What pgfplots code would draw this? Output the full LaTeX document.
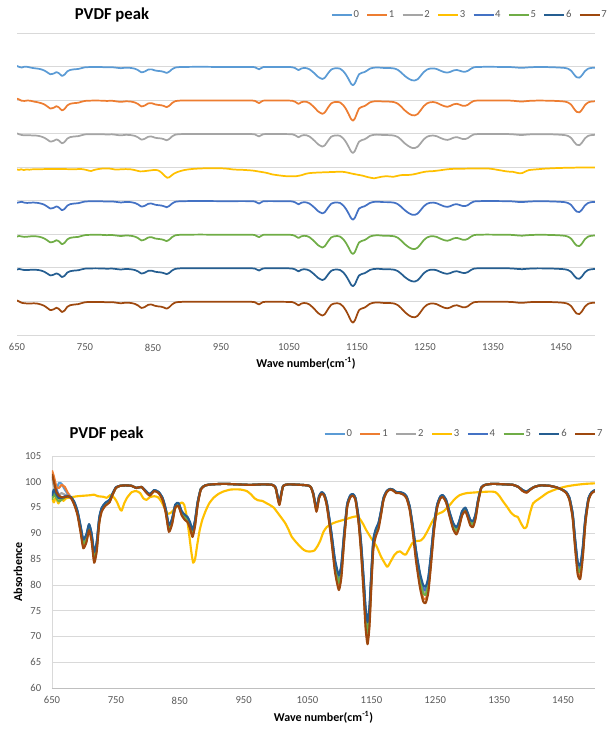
\documentclass[border=0pt]{standalone}
\usepackage{fontspec}
\setmainfont{Carlito}
\usepackage{pgfplots}
\usepackage{pgfplotstable}
\pgfplotsset{compat=1.18}
\definecolor{c0}{HTML}{5B9BD5}
\definecolor{c1}{HTML}{ED7D31}
\definecolor{c2}{HTML}{A5A5A5}
\definecolor{c3}{HTML}{FFC000}
\definecolor{c4}{HTML}{4472C4}
\definecolor{c5}{HTML}{70AD47}
\definecolor{c6}{HTML}{255E91}
\definecolor{c7}{HTML}{9E480E}
\definecolor{gridc}{HTML}{D9D9D9}
\definecolor{axc}{HTML}{BFBFBF}
\definecolor{txt}{HTML}{595959}

\pgfplotstableread{
x s0 s1 s2 s4 s5 s6 s7
650 101.0 102.2 100.5 97.0 96.5 97.3 101.5
653 99.5 101.0 99.2 97.8 97.6 98.5 100.0
657 98.6 99.0 98.0 98.5 96.8 97.5 98.0
661 99.8 98.8 97.5 97.2 96.2 96.8 97.3
665 99.6 99.4 97.8 96.8 96.5 96.9 97.0
670 98.5 99.0 97.5 97.2 97.0 97.1 97.0
675 97.6 97.8 97.3 97.3 97.1 97.2 97.2
680 97.0 96.9 97.0 96.9 96.9 97.0 96.8
685 96.0 95.6 95.9 95.9 95.8 96.1 95.5
690 94.2 93.7 94.0 94.2 93.9 94.3 93.5
695 91.1 90.3 90.9 91.0 90.7 91.3 90.0
699 88.6 87.5 88.2 88.5 88.0 88.8 87.1
704 89.6 88.6 89.3 89.5 89.1 89.9 88.3
708 91.7 90.9 91.4 91.6 91.2 91.8 90.6
712 89.8 88.8 89.5 89.7 89.3 90.0 88.5
716 86.1 84.8 85.7 86.0 85.4 86.4 84.3
720 88.1 86.9 87.7 87.9 87.4 88.3 86.5
724 92.9 92.2 92.7 92.8 92.5 93.1 92.0
728 94.9 94.5 94.8 94.9 94.7 95.0 94.3
734 95.9 95.5 95.8 95.9 95.7 96.0 95.4
740 96.4 96.1 96.3 96.4 96.2 96.5 96.0
745 97.7 97.6 97.7 97.7 97.6 97.8 97.5
750 98.9 98.8 98.9 98.9 98.8 98.9 98.8
756 99.2 99.2 99.2 99.2 99.2 99.2 99.2
765 99.3 99.3 99.3 99.3 99.3 99.3 99.3
775 99.2 99.2 99.2 99.2 99.2 99.2 99.2
782 98.8 98.8 98.8 98.8 98.8 98.8 98.8
790 99.0 99.0 99.0 99.0 99.0 99.0 99.0
797 98.2 98.0 98.1 98.2 98.1 98.2 98.0
803 97.6 97.4 97.5 97.5 97.5 97.6 97.3
810 98.4 98.2 98.3 98.3 98.3 98.4 98.2
817 98.0 97.9 97.9 98.0 97.9 98.0 97.8
823 96.9 96.6 96.8 96.8 96.7 96.9 96.5
828 94.7 94.2 94.5 94.6 94.4 94.8 94.0
833 91.4 90.6 91.1 91.3 90.9 91.6 90.3
838 92.7 92.0 92.5 92.6 92.3 92.9 91.8
843 95.5 95.1 95.4 95.5 95.3 95.6 95.0
848 95.8 95.4 95.7 95.8 95.6 95.9 95.3
853 94.2 93.7 94.0 94.2 93.9 94.3 93.5
858 93.4 92.8 93.2 93.4 93.1 93.6 92.6
862 93.1 92.4 92.9 93.0 92.7 93.2 92.2
866 92.0 91.3 91.8 91.9 91.6 92.2 91.0
870 90.5 89.6 90.2 90.4 90.0 90.7 89.3
874 92.5 91.7 92.2 92.4 92.1 92.6 91.5
878 96.0 95.6 95.9 95.9 95.8 96.1 95.5
883 98.6 98.5 98.6 98.6 98.6 98.6 98.5
890 99.3 99.3 99.3 99.3 99.3 99.3 99.3
900 99.5 99.5 99.5 99.5 99.5 99.5 99.5
920 99.6 99.6 99.6 99.6 99.6 99.6 99.6
940 99.5 99.5 99.5 99.5 99.5 99.5 99.5
960 99.4 99.4 99.4 99.4 99.4 99.4 99.4
980 99.5 99.5 99.5 99.5 99.5 99.5 99.5
995 99.4 99.4 99.4 99.4 99.4 99.4 99.4
1000 98.9 98.8 98.9 98.9 98.8 98.9 98.8
1003 97.3 97.1 97.2 97.3 97.2 97.4 97.0
1006 96.0 95.6 95.9 95.9 95.8 96.1 95.5
1009 97.7 97.6 97.7 97.7 97.6 97.8 97.5
1012 99.2 99.2 99.2 99.2 99.2 99.2 99.2
1020 99.5 99.5 99.5 99.5 99.5 99.5 99.5
1040 99.4 99.4 99.4 99.4 99.4 99.4 99.4
1050 99.3 99.3 99.3 99.3 99.3 99.3 99.3
1055 99.0 99.0 99.0 99.0 99.0 99.0 99.0
1059 97.7 97.6 97.7 97.7 97.6 97.8 97.5
1064 94.8 94.4 94.7 94.8 94.6 94.9 94.2
1068 97.1 96.9 97.0 97.1 97.0 97.2 96.8
1072 97.9 97.8 97.9 97.9 97.8 98.0 97.7
1076 97.6 97.4 97.5 97.5 97.5 97.6 97.3
1080 96.0 95.6 95.9 95.9 95.8 96.1 95.5
1084 92.9 92.2 92.7 92.8 92.5 93.1 92.0
1088 89.4 88.3 89.0 89.3 88.8 89.6 88.0
1093 84.5 83.0 84.0 84.4 83.7 84.9 82.5
1099 81.5 79.6 80.8 81.3 80.4 81.9 79.0
1103 83.7 82.0 83.1 83.5 82.8 84.0 81.5
1107 89.4 88.3 89.0 89.3 88.8 89.6 88.0
1112 95.5 95.1 95.4 95.5 95.3 95.6 95.0
1117 97.3 97.1 97.2 97.3 97.2 97.4 97.0
1121 97.6 97.4 97.5 97.5 97.5 97.6 97.3
1125 96.9 96.6 96.8 96.8 96.7 96.9 96.5
1130 92.9 92.2 92.7 92.8 92.5 93.1 92.0
1134 87.6 86.4 87.2 87.5 86.9 87.9 86.0
1138 80.6 78.6 79.9 80.4 79.5 81.0 78.0
1141 74.9 72.3 74.0 74.6 73.5 75.4 71.5
1144 72.2 69.4 71.3 71.9 70.7 72.8 68.5
1147 75.3 72.8 74.5 75.0 73.9 75.8 72.0
1150 82.3 80.6 81.8 82.1 81.4 82.7 80.0
1153 88.5 87.4 88.1 88.4 87.9 88.8 87.0
1157 90.7 89.8 90.4 90.6 90.2 90.9 89.5
1161 91.8 91.1 91.6 91.8 91.4 92.0 90.8
1165 94.2 93.7 94.0 94.2 93.9 94.3 93.5
1169 96.9 96.6 96.8 96.8 96.7 96.9 96.5
1174 98.2 98.0 98.1 98.2 98.1 98.2 98.0
1179 98.6 98.5 98.6 98.6 98.6 98.6 98.5
1184 98.4 98.3 98.4 98.4 98.4 98.5 98.3
1189 98.0 97.9 97.9 98.0 97.9 98.0 97.8
1194 98.0 97.9 97.9 98.0 97.9 98.0 97.8
1200 97.7 97.6 97.7 97.7 97.6 97.8 97.5
1205 97.1 96.9 97.0 97.1 97.0 97.2 96.8
1210 95.1 94.7 95.0 95.0 94.9 95.2 94.5
1215 91.1 90.3 90.9 91.0 90.7 91.3 90.0
1220 86.3 85.0 85.8 86.2 85.6 86.6 84.5
1226 81.9 80.1 81.3 81.7 80.9 82.3 79.5
1231 79.5 77.5 78.8 79.3 78.4 80.0 76.8
1235 79.3 77.2 78.6 79.0 78.1 79.7 76.5
1239 81.0 79.1 80.4 80.8 80.0 81.4 78.5
1243 85.4 84.0 84.9 85.3 84.6 85.7 83.5
1248 91.6 90.8 91.3 91.5 91.1 91.8 90.5
1253 95.5 95.1 95.4 95.5 95.3 95.6 95.0
1258 97.1 96.9 97.0 97.1 97.0 97.2 96.8
1262 97.3 97.1 97.2 97.3 97.2 97.4 97.0
1267 96.4 96.1 96.3 96.4 96.2 96.5 96.0
1272 94.2 93.7 94.0 94.2 93.9 94.3 93.5
1278 91.8 91.1 91.6 91.8 91.4 92.0 90.8
1283 91.0 90.1 90.7 90.9 90.5 91.2 89.8
1287 92.0 91.3 91.8 91.9 91.6 92.2 91.0
1292 94.2 93.7 94.0 94.2 93.9 94.3 93.5
1297 94.9 94.5 94.8 94.9 94.7 95.0 94.3
1301 93.8 93.2 93.6 93.7 93.5 93.9 93.0
1305 92.5 91.7 92.2 92.4 92.1 92.6 91.5
1309 92.2 91.5 91.9 92.1 91.8 92.4 91.2
1313 93.6 93.0 93.4 93.5 93.3 93.7 92.8
1317 96.4 96.1 96.3 96.4 96.2 96.5 96.0
1322 98.9 98.8 98.9 98.9 98.8 98.9 98.8
1328 99.4 99.4 99.4 99.4 99.4 99.4 99.4
1340 99.6 99.6 99.6 99.6 99.6 99.6 99.6
1360 99.5 99.5 99.5 99.5 99.5 99.5 99.5
1372 99.4 99.4 99.4 99.4 99.4 99.4 99.4
1380 99.0 99.0 99.0 99.0 99.0 99.0 99.0
1387 98.4 98.2 98.3 98.3 98.3 98.4 98.2
1393 98.1 97.9 98.0 98.1 98.0 98.1 97.9
1398 98.5 98.4 98.5 98.5 98.5 98.5 98.4
1405 99.0 99.0 99.0 99.0 99.0 99.0 99.0
1415 99.3 99.3 99.3 99.3 99.3 99.3 99.3
1430 99.2 99.2 99.2 99.2 99.2 99.2 99.2
1440 98.9 98.9 98.9 98.9 98.9 98.9 98.9
1448 98.5 98.5 98.5 98.5 98.5 98.5 98.5
1455 98.0 97.9 97.9 98.0 97.9 98.0 97.8
1460 96.9 96.6 96.8 96.8 96.7 96.9 96.5
1465 93.8 93.2 93.6 93.7 93.5 93.9 93.0
1469 88.5 87.4 88.1 88.4 87.9 88.8 87.0
1473 84.1 82.5 83.6 83.9 83.2 84.4 82.0
1477 83.4 81.7 82.8 83.2 82.5 83.8 81.2
1481 87.2 85.9 86.8 87.0 86.5 87.5 85.5
1485 92.9 92.2 92.7 92.8 92.5 93.1 92.0
1490 96.9 96.6 96.8 96.8 96.7 96.9 96.5
1495 98.0 97.9 97.9 98.0 97.9 98.0 97.8
1500 98.4 98.2 98.3 98.3 98.3 98.4 98.2
}\maindata

\pgfplotstableread{
x y
650 96.8
653 96.0
656 97.0
660 95.8
664 96.8
668 96.3
672 96.8
680 97.0
690 97.2
700 97.3
710 97.4
716 97.5
722 97.2
730 97.1
736 96.9
742 97.5
748 96.8
752 96.0
756 94.8
759 94.4
763 95.8
768 97.0
775 98.0
782 98.2
788 97.8
793 96.8
798 96.5
803 97.0
810 97.2
816 97.0
821 96.2
826 95.0
831 93.8
836 94.0
841 94.6
847 95.4
853 96.0
857 95.5
861 93.2
865 89.5
868 86.5
871 84.3
874 85.0
877 87.5
881 90.5
885 92.5
890 94.2
896 95.8
903 96.9
910 97.6
918 98.1
930 98.5
945 98.5
955 98.2
962 97.5
967 96.8
973 96.4
979 96.3
985 95.9
991 95.5
997 95.0
1002 94.2
1008 93.2
1015 92.0
1020 90.8
1025 89.4
1032 88.3
1038 87.5
1044 86.8
1050 86.5
1056 86.5
1061 86.7
1066 87.6
1070 88.6
1075 90.3
1080 91.2
1087 91.8
1095 92.2
1106 92.6
1119 93.1
1127 93.3
1132 92.8
1137 91.8
1142 90.6
1150 89.0
1158 87.5
1165 85.5
1170 84.4
1175 83.5
1180 84.5
1186 85.8
1191 86.4
1195 86.5
1200 86.0
1204 85.9
1209 87.0
1214 88.1
1220 88.5
1227 88.6
1232 89.2
1238 90.5
1244 92.0
1252 93.6
1262 94.2
1272 95.4
1280 96.6
1288 97.4
1299 97.8
1320 98.0
1336 98.1
1344 98.0
1350 97.3
1356 96.2
1362 95.2
1368 94.1
1374 93.4
1379 93.2
1384 92.0
1389 91.0
1393 91.3
1398 93.8
1403 95.8
1410 96.5
1418 97.2
1426 97.9
1440 98.6
1455 99.1
1470 99.4
1485 99.6
1500 99.7
}\yellowdata

\pgfplotsset{
  common/.style={
    scale only axis,
    anchor=south west,
    xmin=650, xmax=1500,
    xtick={650,750,...,1450},
    axis x line*=bottom, axis y line*=left,
    major tick length=0pt,
    ymajorgrids,
    grid style={gridc, line width=0.6pt},
    tick label style={font=\fontsize{8}{9}\selectfont, text=txt},
    /pgf/number format/assume math mode=true,
    /pgf/number format/1000 sep={},
    xlabel={Wave number(cm\textsuperscript{-1})},
    legend columns=8,
    legend image code/.code={\draw[#1] (0pt,0pt) -- (15pt,0pt);},
    legend cell align=left,
    every axis plot/.append style={line join=round, smooth, tension=0.35},
  },
}

\begin{document}
\begin{tikzpicture}
\path[use as bounding box] (0,0) rectangle (461.25pt,-546.75pt);

% ---------------- top chart (offset traces) ----------------
\node[font=\bfseries\fontsize{12.5}{14}\selectfont, text=black] at (84pt,-11.25pt) {PVDF peak};
\begin{axis}[common,
  at={(12.75pt,-251.25pt)},
  width=433.5pt, height=226.5pt,
  ymin=0, ymax=450, ytick={0,50,...,450}, yticklabels={},
  x axis line style={-, draw=gridc, line width=0.6pt},
  y axis line style={draw=none},
  xticklabel style={yshift=-3pt},
  xlabel style={at={(axis description cs:0.5,-0.094)}, anchor=center, font=\bfseries\fontsize{9}{10}\selectfont},
  legend style={draw=none, fill=none, at={(0.7826,1.0596)}, anchor=center,
    font=\fontsize{8}{9}\selectfont, text=txt,
    nodes={inner sep=0.6pt},
    /tikz/every even column/.append style={column sep=5pt}},
  every axis plot/.append style={line width=1.3pt},
]
\addplot[c0] table[x=x, y expr=\thisrow{s0}+300] {\maindata};
\addplot[c1] table[x=x, y expr=\thisrow{s1}+250] {\maindata};
\addplot[c2] table[x=x, y expr=\thisrow{s2}+200] {\maindata};
\addplot[c3] table[x=x, y expr=\thisrow{y}+150] {\yellowdata};
\addplot[c4] table[x=x, y expr=\thisrow{s4}+100] {\maindata};
\addplot[c5] table[x=x, y expr=\thisrow{s5}+50] {\maindata};
\addplot[c6] table[x=x, y expr=\thisrow{s6}] {\maindata};
\addplot[c7] table[x=x, y expr=\thisrow{s7}-50] {\maindata};
\legend{0,1,2,3,4,5,6,7}
\end{axis}

% ---------------- bottom chart (overlay) ----------------
\node[font=\bfseries\fontsize{12.5}{14}\selectfont, text=black] at (80pt,-325.5pt) {PVDF peak};
\begin{axis}[common,
  at={(39pt,-516pt)},
  width=407.25pt, height=174pt,
  ymin=60, ymax=105, ytick={60,65,...,105},
  x axis line style={-, draw=axc, line width=0.6pt},
  y axis line style={-, draw=gridc, line width=0.6pt},
  xticklabel style={yshift=-3pt},
  yticklabel style={xshift=-4.5pt},
  xlabel style={at={(axis description cs:0.5,-0.125)}, anchor=center, font=\bfseries\fontsize{9}{10}\selectfont},
  ylabel={Absorbence},
  ylabel style={at={(axis description cs:-0.0626,0.5)}, anchor=center, font=\bfseries\fontsize{9}{10}\selectfont},
  legend style={draw=none, fill=none, at={(0.7578,1.0948)}, anchor=center,
    font=\fontsize{8}{9}\selectfont, text=txt,
    nodes={inner sep=0.6pt},
    /tikz/every even column/.append style={column sep=5pt}},
  every axis plot/.append style={line width=1.6pt},
]
\addplot[c0] table[x=x, y=s0] {\maindata};
\addplot[c1] table[x=x, y=s1] {\maindata};
\addplot[c2] table[x=x, y=s2] {\maindata};
\addplot[c3] table[x=x, y=y] {\yellowdata};
\addplot[c4] table[x=x, y=s4] {\maindata};
\addplot[c5] table[x=x, y=s5] {\maindata};
\addplot[c6] table[x=x, y=s6] {\maindata};
\addplot[c7] table[x=x, y=s7] {\maindata};
\legend{0,1,2,3,4,5,6,7}
\end{axis}
\end{tikzpicture}
\end{document}
